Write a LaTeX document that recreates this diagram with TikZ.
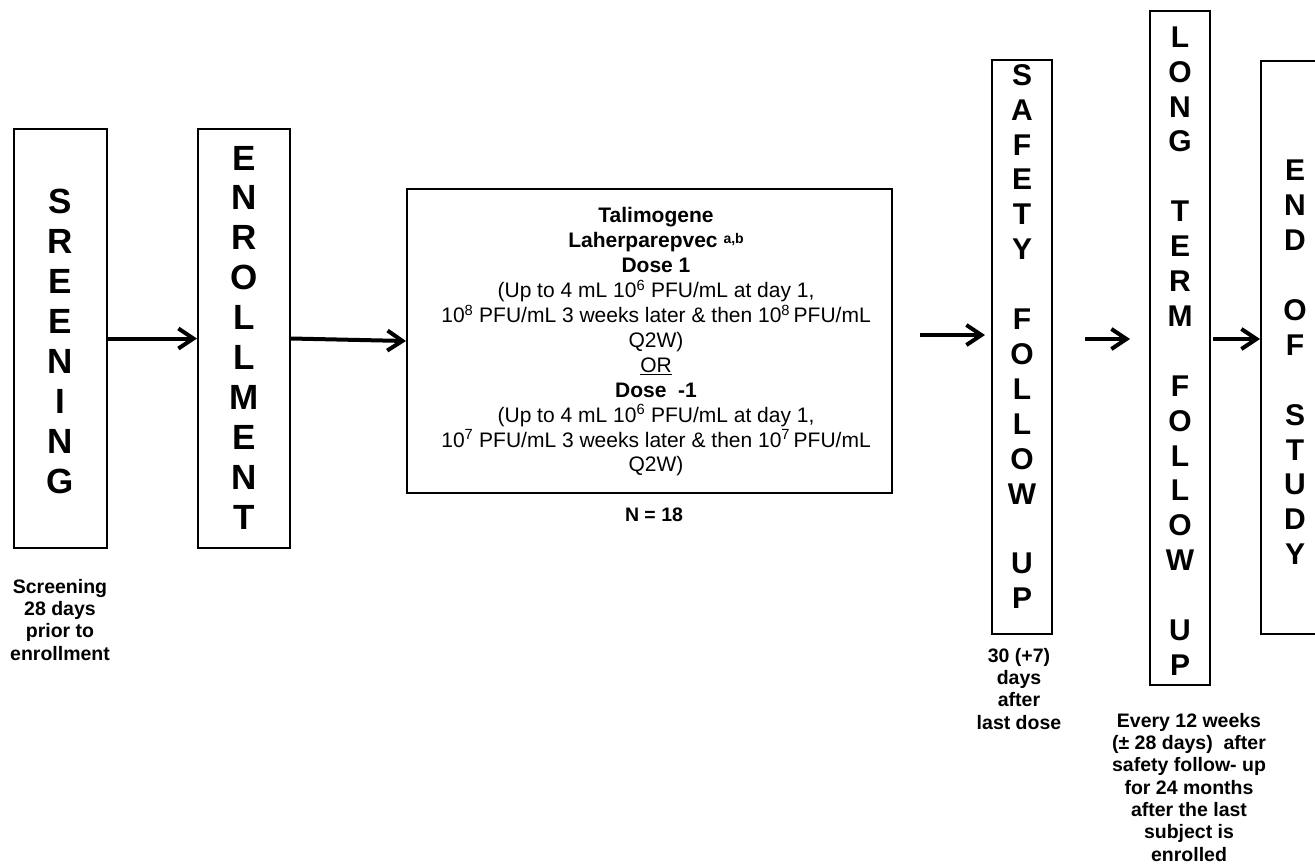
\documentclass[tikz,border=0pt]{standalone}
\usepackage{fontspec}
\setmainfont{Liberation Sans}
\usetikzlibrary{arrows.meta}
\begin{document}
\begin{tikzpicture}[x=1pt,y=-1pt,
  box/.style={draw, line width=2pt, inner sep=0pt},
  bigl/.style={font=\fontsize{35}{39.9}\selectfont\bfseries, align=center, inner sep=0pt},
  bigr/.style={font=\fontsize{30}{34.9}\selectfont\bfseries, align=center, inner sep=0pt},
  lab/.style={font=\fontsize{19.5}{22.3}\selectfont\bfseries, align=center, inner sep=0pt, anchor=north},
  dosetext/.style={font=\fontsize{21}{24.9}\selectfont, align=center, inner sep=0pt, anchor=north},
  arr/.style={line width=4pt, -{Straight Barb[length=15pt,width=20pt]}}]
\useasboundingbox (0,0) rectangle (1315,863);
\clip (0,0) rectangle (1315,863);
% boxes
\node[box, minimum width=93pt, minimum height=419pt] (scr) at (60.5,338.5) {};
\node[box, minimum width=92pt, minimum height=419pt] (enr) at (244,338.5) {};
\node[box, minimum width=485pt, minimum height=304pt] (tal) at (649.5,341) {};
\node[box, minimum width=60pt, minimum height=574pt] (saf) at (1022,347) {};
\node[box, minimum width=60pt, minimum height=674pt] (ltf) at (1180,348) {};
\node[box, minimum width=79pt, minimum height=573pt] (eos) at (1300.5,347.5) {};
% stacked letters
\node[bigl] (scrT) at (60.5,341.5) {S\\R\\E\\E\\N\\I\\N\\G};
\node[bigl] (enrT) at (244,337.5) {E\\N\\R\\O\\L\\L\\M\\E\\N\\T};
\node[bigr] (safT) at (1022,336.5) {S\\A\\F\\E\\T\\Y\\\mbox{}\\F\\O\\L\\L\\O\\W\\\mbox{}\\U\\P};
\node[bigr] (ltfT) at (1180,351) {L\\O\\N\\G\\\mbox{}\\T\\E\\R\\M\\\mbox{}\\F\\O\\L\\L\\O\\W\\\mbox{}\\U\\P};
\node[bigr] (eosT) at (1295,362.5) {E\\N\\D\\\mbox{}\\O\\F\\\mbox{}\\S\\T\\U\\D\\Y};
% dose text
\node[dosetext] (talT) at (656,207.5) {\textbf{Talimogene}\\
\textbf{Laherparepvec {\fontsize{14}{14}\selectfont\raisebox{0.6ex}{a,b}}}\\
\textbf{Dose 1}\\
(Up to 4 mL 10\textsuperscript{6} PFU/mL at day 1,\\
10\textsuperscript{8} PFU/mL 3 weeks later \& then 10\textsuperscript{8}\,PFU/mL\\
Q2W)\\
\underline{OR}\\
\textbf{Dose\ \ -1}\\
(Up to 4 mL 10\textsuperscript{6} PFU/mL at day 1,\\
10\textsuperscript{7} PFU/mL 3 weeks later \& then 10\textsuperscript{7}\,PFU/mL\\
Q2W)};
\node[font=\fontsize{19.5}{22.3}\selectfont\bfseries, inner sep=0pt] (nlab) at (654,515) {N = 18};
% labels
\node[lab] (scrL) at (60,579) {Screening\\28 days\\prior to\\enrollment};
\node[lab] (safL) at (1019,648) {30 (+7)\\days\\after\\last dose};
\node[lab] (ltfL) at (1189,713) {Every 12 weeks\\(\textpm\ 28 days)\ \ after\\safety follow- up\\for 24 months\\after the last\\subject is\\enrolled};
% free arrow ends
\coordinate (a3s) at (920,335);
\coordinate (a3e) at (985,335);
\coordinate (a4s) at (1085,339);
\coordinate (a4e) at (1130,339);
\coordinate (a5s) at (1213,339);
% arrows
\draw[arr] (scr.east) -- (enr.west);
\draw[arr] (enr.east) -- (tal.west);
\draw[arr] (a3s) -- (a3e);
\draw[arr] (a4s) -- (a4e);
\draw[arr] (a5s) -- (a5s -| eos.west);
\end{tikzpicture}
\end{document}
